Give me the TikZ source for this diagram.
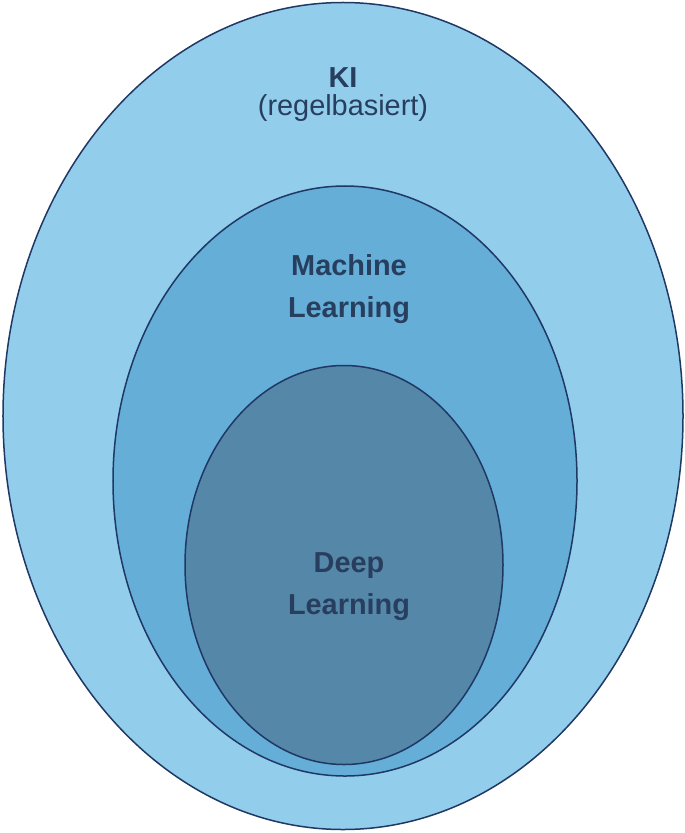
\documentclass[tikz,border=0pt]{standalone}
\usepackage{fontspec}
\setmainfont{Liberation Sans}
\usetikzlibrary{shapes.geometric,positioning}
\definecolor{kiblue}{HTML}{92CDEC}
\definecolor{mlblue}{HTML}{64AED8}
\definecolor{dlblue}{HTML}{5587A8}
\definecolor{rim}{HTML}{1F3864}
\definecolor{ink}{HTML}{283E5E}
\tikzset{
    %Define style for the sets
    set/.style={
           ellipse,
           draw=rim,
           line width=1.5bp,
           inner sep=0pt},
    % Define style for labels
    label/.style={
           font=\fontsize{29}{42}\selectfont\bfseries,
           text=ink,
           align=center}
}
\begin{document}
\begin{tikzpicture}[x=1bp,y=-1bp]
  \useasboundingbox (0,0) rectangle (685,833);
  \node[set,fill=kiblue,minimum width=680bp,minimum height=827bp] (ki) at (343,416) {};
  \node[set,fill=mlblue,minimum width=464bp,minimum height=590bp] (ml) at (345,481) {};
  \node[set,fill=dlblue,minimum width=318bp,minimum height=399bp] (dl) at (344,565) {};
  \node[label] (kitext) at (343,78) {KI};
  \node[label,font=\fontsize{29}{42}\selectfont,below=0pt of kitext] (kisub) {(regelbasiert)};
  \node[label] (mltext) at (349,289) {Machine\\Learning};
  \node[label] (dltext) at (349,587) {Deep\\Learning};
\end{tikzpicture}
\end{document}
